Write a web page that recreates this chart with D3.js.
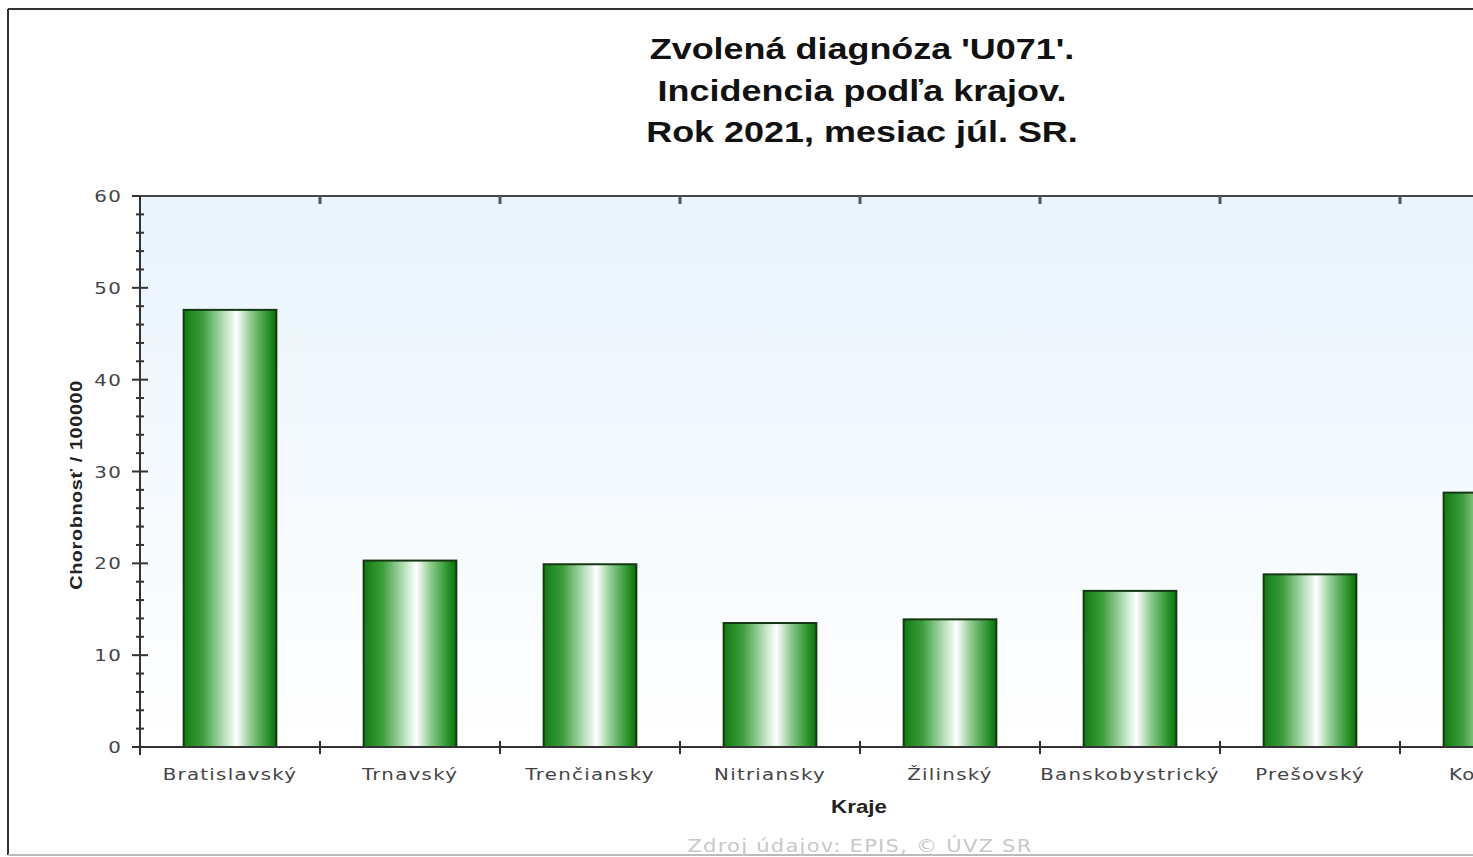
<!DOCTYPE html>
<html>
<head>
<meta charset="utf-8">
<script src="https://cdn.jsdelivr.net/npm/d3@7"></script>
<style>
  body { margin: 0; background: #fff; overflow: hidden; }
</style>
</head>
<body>
<div id="chart"></div>
<script>
const categories = ["Bratislavský", "Trnavský", "Trenčiansky", "Nitriansky", "Žilinský", "Banskobystrický", "Prešovský", "Košický"];
const values = [47.6, 20.3, 19.9, 13.5, 13.9, 17.0, 18.8, 27.7];
const yTicks = [0, 10, 20, 30, 40, 50, 60];
const titleLines = ["Zvolená diagnóza 'U071'.", "Incidencia podľa krajov.", "Rok 2021, mesiac júl. SR."];

const W = 1473, H = 857;
const M = { left: 140, top: 196 };
const plotW = 180 * categories.length;
const plotH = 747 - 196;
// the source picture is stretched sideways, so text is widened a bit
const SX = 1.24;

const svg = d3.select("#chart").append("svg")
	.attr("width", W)
	.attr("height", H);

const defs = svg.append("defs");
const bg = defs.append("linearGradient").attr("id", "bg")
	.attr("x1", 0).attr("y1", 0).attr("x2", 0).attr("y2", 1);
bg.append("stop").attr("offset", "0%").attr("stop-color", "#e9f4fd");
bg.append("stop").attr("offset", "100%").attr("stop-color", "#ffffff");

const barGrad = defs.append("linearGradient").attr("id", "bar")
	.attr("x1", 0).attr("y1", 0).attr("x2", 1).attr("y2", 0);
barGrad.append("stop").attr("offset", "0%").attr("stop-color", "#127a12");
barGrad.append("stop").attr("offset", "20%").attr("stop-color", "#3a9e3a");
barGrad.append("stop").attr("offset", "45%").attr("stop-color", "#bfe3bf");
barGrad.append("stop").attr("offset", "57%").attr("stop-color", "#ffffff");
barGrad.append("stop").attr("offset", "72%").attr("stop-color", "#8fcc8f");
barGrad.append("stop").attr("offset", "90%").attr("stop-color", "#2e962e");
barGrad.append("stop").attr("offset", "100%").attr("stop-color", "#0a700a");

const at = (x, y, rot) => `translate(${x},${y})${rot ? " rotate(" + rot + ")" : ""} scale(${SX},1)`;

// frame
svg.append("line").attr("x1", 8).attr("y1", 9).attr("x2", W).attr("y2", 9)
	.attr("stroke", "#333").attr("stroke-width", 2);
svg.append("line").attr("x1", 8).attr("y1", 9).attr("x2", 8).attr("y2", 855)
	.attr("stroke", "#333").attr("stroke-width", 2);
svg.append("line").attr("x1", 8).attr("y1", 855).attr("x2", W).attr("y2", 855)
	.attr("stroke", "#bbb").attr("stroke-width", 2);

// title
svg.append("g").selectAll("text")
	.data(titleLines)
	.enter()
	.append("text")
	.attr("transform", (d, i) => at(862, 59 + i * 41.5))
	.attr("text-anchor", "middle")
	.style("font-family", "Liberation Sans, Arial, sans-serif")
	.style("font-weight", 700)
	.style("font-size", "29px")
	.style("fill", "#111")
	.text(d => d);

const g = svg.append("g").attr("transform", `translate(${M.left},${M.top})`);

const x = d3.scaleBand().domain(categories).range([0, plotW]).paddingInner(0.485).paddingOuter(0.2425);
const xb = d3.scaleLinear().domain([0, categories.length]).range([0, plotW]);
const y = d3.scaleLinear().domain([0, 60]).range([plotH, 0]);

g.append("rect")
	.attr("width", plotW).attr("height", plotH)
	.attr("fill", "url(#bg)");

// bars
g.append("g").selectAll("rect")
	.data(categories)
	.enter()
	.append("rect")
	.attr("x", d => x(d))
	.attr("y", (d, i) => y(values[i]))
	.attr("width", x.bandwidth())
	.attr("height", (d, i) => plotH - y(values[i]))
	.attr("fill", "url(#bar)")
	.attr("stroke", "#143814")
	.attr("stroke-width", 2);

// top axis line + ticks
g.append("line").attr("x1", 0).attr("x2", plotW).attr("y1", 0).attr("y2", 0)
	.attr("stroke", "#444").attr("stroke-width", 2);
g.append("g").selectAll("line")
	.data(d3.range(1, categories.length))
	.enter().append("line")
	.attr("x1", d => xb(d)).attr("x2", d => xb(d))
	.attr("y1", 0).attr("y2", 8)
	.attr("stroke", "#555").attr("stroke-width", 3);

// bottom axis
g.append("line").attr("x1", 0).attr("x2", plotW).attr("y1", plotH).attr("y2", plotH)
	.attr("stroke", "#333").attr("stroke-width", 2);
g.append("g").selectAll("line")
	.data(d3.range(1, categories.length))
	.enter().append("line")
	.attr("x1", d => xb(d)).attr("x2", d => xb(d))
	.attr("y1", plotH - 6).attr("y2", plotH + 7)
	.attr("stroke", "#333").attr("stroke-width", 2);

g.append("g").selectAll("text")
	.data(categories)
	.enter().append("text")
	.attr("transform", d => at(x(d) + x.bandwidth() / 2, plotH + 33))
	.attr("text-anchor", "middle")
	.style("font-family", "DejaVu Sans, Verdana, sans-serif")
	.style("font-size", "16px")
	.style("letter-spacing", "1px")
	.style("fill", "#444")
	.text(d => d);

// y axis
g.append("line").attr("x1", 0).attr("x2", 0).attr("y1", 0).attr("y2", plotH + 8)
	.attr("stroke", "#333").attr("stroke-width", 2);
g.append("g").selectAll("line")
	.data(d3.range(0, 61, 2).filter(v => v % 10 !== 0))
	.enter().append("line")
	.attr("x1", -4).attr("x2", 4)
	.attr("y1", d => y(d)).attr("y2", d => y(d))
	.attr("stroke", "#333").attr("stroke-width", 2);
g.append("g").selectAll("line")
	.data(yTicks)
	.enter().append("line")
	.attr("x1", -8).attr("x2", d => d === 60 ? 0 : 8)
	.attr("y1", d => y(d)).attr("y2", d => y(d))
	.attr("stroke", "#333").attr("stroke-width", 2);
g.append("g").selectAll("text")
	.data(yTicks)
	.enter().append("text")
	.attr("transform", d => at(-18, y(d) + 6))
	.attr("text-anchor", "end")
	.style("font-family", "DejaVu Sans, Verdana, sans-serif")
	.style("font-size", "16px")
	.style("letter-spacing", "1px")
	.style("fill", "#444")
	.text(d => d);

// axis titles
svg.append("text")
	.attr("transform", "translate(82,485) rotate(-90) scale(1.17,1)")
	.attr("text-anchor", "middle")
	.style("font-family", "Liberation Sans, Arial, sans-serif")
	.style("font-weight", 700)
	.style("font-size", "17px")
	.style("letter-spacing", "0.5px")
	.style("fill", "#222")
	.text("Chorobnosť / 100000");

svg.append("text")
	.attr("transform", at(859, 813))
	.attr("text-anchor", "middle")
	.style("font-family", "Liberation Sans, Arial, sans-serif")
	.style("font-weight", 700)
	.style("font-size", "18px")
	.style("fill", "#222")
	.text("Kraje");

svg.append("text")
	.attr("transform", at(860, 852))
	.attr("text-anchor", "middle")
	.style("font-family", "DejaVu Sans, Verdana, sans-serif")
	.style("font-size", "17px")
	.style("letter-spacing", "1px")
	.style("fill", "#c8c8c8")
	.text("Zdroj údajov: EPIS, © ÚVZ SR");
</script>
</body>
</html>
